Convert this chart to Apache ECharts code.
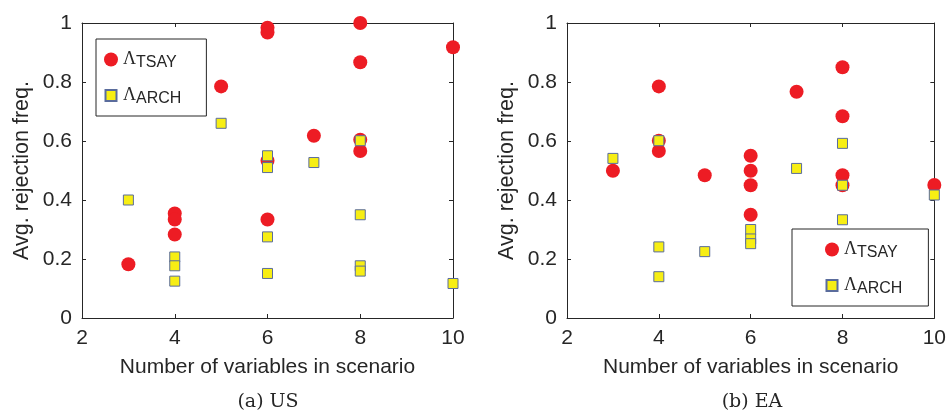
<!DOCTYPE html>
<html>
<head>
<meta charset="utf-8">
<script src="https://cdn.jsdelivr.net/npm/echarts@6/dist/echarts.min.js"></script>
<style>
html,body{margin:0;padding:0;background:#fff;}
#c{width:949px;height:412px;}
</style>
</head>
<body>
<div id="c"></div>
<script>
// ---- data ----
var xTickLabels = ['2', '4', '6', '8', '10'];
var yTickLabels = ['0', '0.2', '0.4', '0.6', '0.8', '1'];
var seriesNames = ['TSAY', 'ARCH'];
var panelCaptions = ['(a) US', '(b) EA'];
var axisTitleX = 'Number of variables in scenario';
var axisTitleY = 'Avg. rejection freq.';

var usTsayX = [3, 4, 4, 4, 5, 6, 6, 6, 6, 7, 8, 8, 8, 8, 10];
var usTsayY = [0.182, 0.354, 0.334, 0.283, 0.785, 0.984, 0.968, 0.533, 0.334, 0.618, 1.0, 0.867, 0.604, 0.566, 0.918];
var usArchX = [3, 4, 4, 4, 5, 6, 6, 6, 6, 7, 8, 8, 8, 8, 10];
var usArchY = [0.400, 0.207, 0.177, 0.125, 0.660, 0.550, 0.510, 0.275, 0.151, 0.527, 0.601, 0.350, 0.177, 0.159, 0.117];

var eaTsayX = [3, 4, 4, 4, 5, 6, 6, 6, 6, 7, 8, 8, 8, 8, 10];
var eaTsayY = [0.499, 0.785, 0.601, 0.566, 0.484, 0.550, 0.499, 0.450, 0.350, 0.767, 0.850, 0.684, 0.484, 0.450, 0.451];
var eaArchX = [3, 4, 4, 4, 5, 6, 6, 6, 7, 8, 8, 8, 10];
var eaArchY = [0.541, 0.601, 0.241, 0.140, 0.225, 0.300, 0.268, 0.252, 0.507, 0.592, 0.450, 0.333, 0.417];

function pairs(xs, ys) { return xs.map(function (x, i) { return [x, ys[i]]; }); }

// ---- styles ----
var INK = '#262626';
var SANS = 'Liberation Sans, Arial, sans-serif';
var RED = '#ED1C24';
var YEL = '#F7EE14';
var SQB = '#5A6C9C';

var grids = [
  { left: 82, top: 23, width: 371, height: 295 },
  { left: 567, top: 23, width: 369, height: 295 }
];

function xAxes(gi) {
  var base = {
    gridIndex: gi, type: 'value', min: 2, max: 10, interval: 2,
    splitLine: { show: false },
    axisTick: { inside: true, length: 4, lineStyle: { color: INK } }
  };
  return [
    Object.assign({}, base, {
      position: 'bottom',
      axisLine: { show: true, onZero: false, lineStyle: { color: INK, width: 1 } },
      axisLabel: { fontFamily: SANS, fontSize: 21, color: INK, margin: 10,
        formatter: function (v) { return xTickLabels[Math.round((v - 2) / 2)]; } },
      name: axisTitleX, nameLocation: 'middle', nameGap: 39,
      nameTextStyle: { fontFamily: SANS, fontSize: 21, color: INK }
    }),
    Object.assign({}, base, {
      position: 'top',
      axisLine: { show: true, onZero: false, lineStyle: { color: INK, width: 1 } },
      axisLabel: { show: false }
    })
  ];
}
function yAxes(gi) {
  var base = {
    gridIndex: gi, type: 'value', min: 0, max: 1, interval: 0.2,
    splitLine: { show: false },
    axisTick: { inside: true, length: 4, lineStyle: { color: INK } }
  };
  return [
    Object.assign({}, base, {
      position: 'left',
      axisLine: { show: true, onZero: false, lineStyle: { color: INK, width: 1 } },
      axisLabel: { fontFamily: SANS, fontSize: 21, color: INK, margin: 10,
        formatter: function (v) { return yTickLabels[Math.round(v / 0.2)]; } },
      name: axisTitleY, nameLocation: 'middle', nameGap: 49, nameRotate: 90,
      nameTextStyle: { fontFamily: SANS, fontSize: 21.5, color: INK }
    }),
    Object.assign({}, base, {
      position: 'right',
      axisLine: { show: true, onZero: false, lineStyle: { color: INK, width: 1 } },
      axisLabel: { show: false }
    })
  ];
}

function tsaySeries(gi, data) {
  return {
    name: seriesNames[0], type: 'scatter', xAxisIndex: gi * 2, yAxisIndex: gi * 2,
    data: data, symbol: 'circle', symbolSize: 14, clip: false,
    itemStyle: { color: RED, opacity: 1 }, emphasis: { disabled: true }, z: 2
  };
}
function archSeries(gi, data) {
  return {
    name: seriesNames[1], type: 'scatter', xAxisIndex: gi * 2, yAxisIndex: gi * 2,
    data: data, symbol: 'rect', symbolSize: 10, clip: false,
    itemStyle: { color: YEL, borderColor: SQB, borderWidth: 1, opacity: 1 }, emphasis: { disabled: true }, z: 3
  };
}

var legendRich = {
  L: { fontFamily: 'Liberation Serif', fontSize: 18, lineHeight: 24, color: INK },
  s: { fontFamily: SANS, fontSize: 16, lineHeight: 17, color: INK, padding: [7, 0, 0, 0] }
};
var sqIcon = 'path://M0,0M14,14M1.5,1.5L12.5,1.5L12.5,12.5L1.5,12.5Z';
function legendFor(left, top, padding) {
  return {
    orient: 'vertical', left: left, top: top,
    padding: padding, itemGap: 13, itemWidth: 14, itemHeight: 14,
    borderColor: INK, borderWidth: 1, backgroundColor: '#fff',
    selectedMode: false,
    data: [{ name: seriesNames[0], icon: 'circle' }, { name: seriesNames[1], icon: sqIcon }],
    formatter: function (name) { return '{L|\u039B}{s|' + name + '}'; },
    textStyle: { rich: legendRich }
  };
}

var chart = echarts.init(document.getElementById('c'), null, { renderer: 'canvas' });
chart.setOption({
  animation: false,
  backgroundColor: '#fff',
  grid: grids,
  xAxis: xAxes(0).concat(xAxes(1)),
  yAxis: yAxes(0).concat(yAxes(1)),
  legend: [
    legendFor(96, 39, [9, 25, 9, 7]),
    legendFor(792, 229, [9, 26, 9, 32])
  ],
  series: [
    tsaySeries(0, pairs(usTsayX, usTsayY)),
    archSeries(0, pairs(usArchX, usArchY)),
    tsaySeries(1, pairs(eaTsayX, eaTsayY)),
    archSeries(1, pairs(eaArchX, eaArchY))
  ],
  graphic: [
    { type: 'text', x: 268, y: 402, style: { text: panelCaptions[0], font: '19px "DejaVu Serif"', fill: INK, align: 'center', verticalAlign: 'middle' } },
    { type: 'text', x: 752, y: 402, style: { text: panelCaptions[1], font: '19px "DejaVu Serif"', fill: INK, align: 'center', verticalAlign: 'middle' } }
  ]
});
</script>
</body>
</html>
